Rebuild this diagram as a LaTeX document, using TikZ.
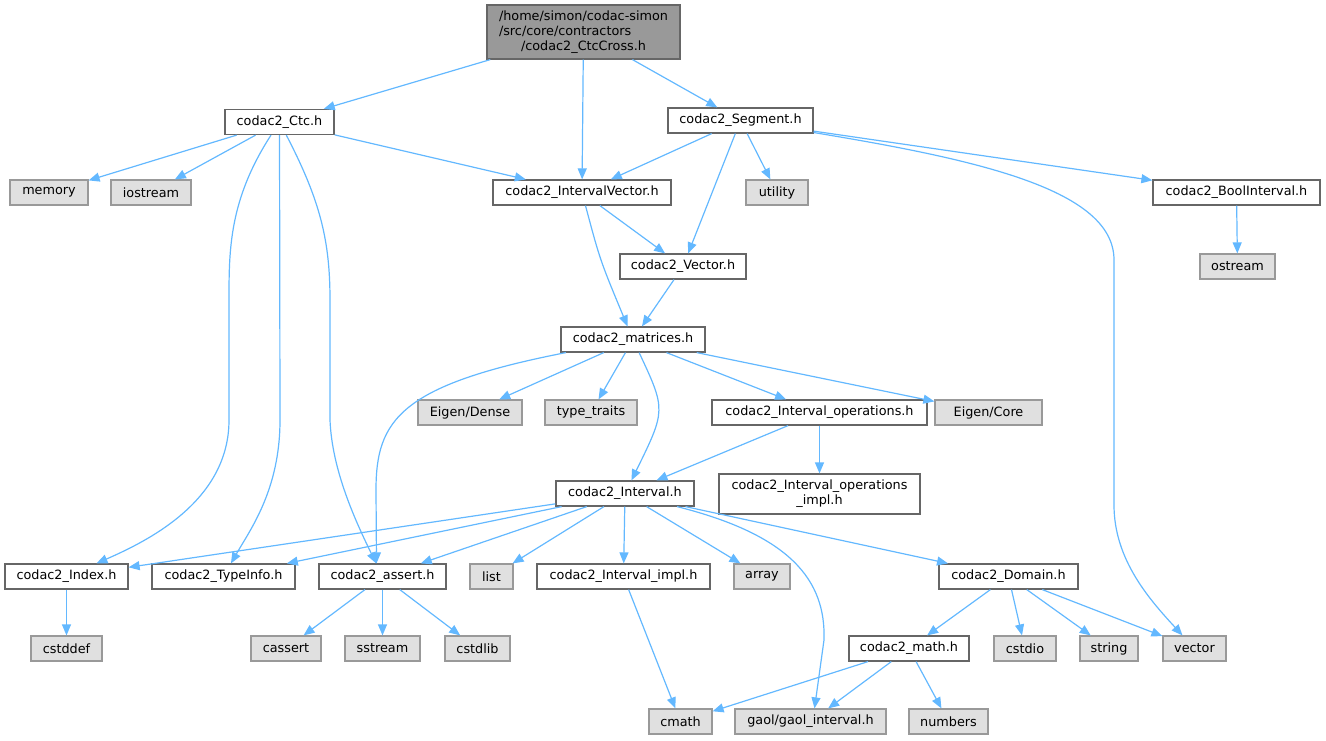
\documentclass[tikz,border=0pt]{standalone}
\usepackage{fontspec}
\setmainfont{DejaVu Sans}
\usetikzlibrary{arrows.meta}
\definecolor{edgeblue}{HTML}{63B8FF}
\definecolor{boxline}{HTML}{666666}
\definecolor{sysline}{HTML}{999999}
\definecolor{sysfill}{HTML}{E0E0E0}
\definecolor{rootfill}{HTML}{999999}
\tikzset{
  hfile/.style={draw=boxline, fill=white, line width=1.2pt, minimum height=25pt,
    inner xsep=2pt, inner ysep=0pt, font=\fontsize{12.8}{15}\selectfont},
  sysfile/.style={hfile, draw=sysline, fill=sysfill},
  rootfile/.style={hfile, fill=rootfill},
  dep/.style={draw=edgeblue, line width=1.2pt, -{Triangle[length=11pt,width=9pt]}}
}
\begin{document}
\begin{tikzpicture}[x=1pt,y=-1pt]
      \useasboundingbox (0,0) rectangle (1326,740);
      \draw
        (583.5,32) node[rootfile, minimum width=193pt, minimum height=54pt] (root)
          {\begin{tabular}{@{}l@{}}/home/simon/codac-simon\\/src/core/contractors\\\multicolumn{1}{@{}c@{}}{/codac2\_CtcCross.h}\end{tabular}}
        (279.5,122) node[hfile, minimum width=109pt] (ctc) {codac2\_Ctc.h}
        (740.5,120.5) node[hfile, minimum width=145pt] (segment) {codac2\_Segment.h}
        (49,192.5) node[sysfile, minimum width=78pt] (memory) {memory}
        (151,192.5) node[sysfile, minimum width=80pt] (iostream) {iostream}
        (582,192.5) node[hfile, minimum width=178pt] (ivec) {codac2\_IntervalVector.h}
        (777,192.5) node[sysfile, minimum width=62pt] (utility) {utility}
        (1236.5,192.5) node[hfile, minimum width=167pt] (boolint) {codac2\_BoolInterval.h}
        (683,266.5) node[hfile, minimum width=126pt] (vech) {codac2\_Vector.h}
        (1237.5,266.5) node[sysfile, minimum width=75pt] (ostream) {ostream}
        (633,339.5) node[hfile, minimum width=144pt] (matrices) {codac2\_matrices.h}
        (470,412.5) node[sysfile, minimum width=104pt] (edense) {Eigen/Dense}
        (591,412.5) node[sysfile, minimum width=92pt] (ttraits) {type\_traits}
        (819.5,412.5) node[hfile, minimum width=215pt] (iops) {codac2\_Interval\_operations.h}
        (988.5,412.5) node[sysfile, minimum width=107pt] (ecore) {Eigen/Core}
        (625,493.5) node[hfile, minimum width=138pt] (interval) {codac2\_Interval.h}
        (819.5,494) node[hfile, minimum width=201pt, minimum height=40pt, align=center] (iopsimpl)
          {codac2\_Interval\_operations\\\_impl.h}
        (66.5,576.5) node[hfile, minimum width=123pt] (index) {codac2\_Index.h}
        (223.5,576.5) node[hfile, minimum width=143pt] (typeinfo) {codac2\_TypeInfo.h}
        (382.5,576.5) node[hfile, minimum width=127pt] (assert) {codac2\_assert.h}
        (491.5,576.5) node[sysfile, minimum width=43pt] (list) {list}
        (623.5,576.5) node[hfile, minimum width=173pt] (iimpl) {codac2\_Interval\_impl.h}
        (762,576.5) node[sysfile, minimum width=56pt] (array) {array}
        (1008.5,576.5) node[hfile, minimum width=139pt] (domain) {codac2\_Domain.h}
        (66.5,648.5) node[sysfile, minimum width=71pt] (cstddef) {cstddef}
        (286,648.5) node[sysfile, minimum width=70pt] (cassert) {cassert}
        (382.5,648.5) node[sysfile, minimum width=75pt] (sstream) {sstream}
        (477.5,648.5) node[sysfile, minimum width=65pt] (cstdlib) {cstdlib}
        (909,648.5) node[hfile, minimum width=120pt] (math) {codac2\_math.h}
        (1025,648.5) node[sysfile, minimum width=62pt] (cstdio) {cstdio}
        (1109,648.5) node[sysfile, minimum width=58pt] (string) {string}
        (1194.5,648.5) node[sysfile, minimum width=63pt] (vector) {vector}
        (680.5,721.5) node[sysfile, minimum width=63pt] (cmath) {cmath}
        (810.5,721.5) node[sysfile, minimum width=151pt] (gaol) {gaol/gaol\_interval.h}
        (948.5,721.5) node[sysfile, minimum width=79pt] (numbers) {numbers};
      \begin{scope}[dep]
        \draw (root) to (ctc);
        \draw (root) to (ivec);
        \draw (root) to (segment);
        \draw (ctc) to (memory);
        \draw (ctc) to (iostream);
        \draw (ctc) to (ivec);
        \draw (ctc) .. controls (229,200) and (229,250) .. (229,300) -- (229,420)
          .. controls (229,500) and (150,540) .. (index);
        \draw (ctc) -- (280,420) .. controls (280,490) and (250,530) .. (typeinfo);
        \draw (ctc) .. controls (320,200) and (330,240) .. (330,300) -- (330,420)
          .. controls (332,470) and (355,520) .. (assert);
        \draw (segment) to (ivec);
        \draw (segment) to (vech);
        \draw (segment) to (utility);
        \draw (segment) to (boolint);
        \draw (segment) .. controls (980,160) and (1114,190) .. (1114,260) -- (1114,505)
          .. controls (1114,560) and (1150,600) .. (vector);
        \draw (boolint) to (ostream);
        \draw (ivec) to (vech);
        \draw (ivec) .. controls (600,260) .. (matrices);
        \draw (vech) to (matrices);
        \draw (matrices) to (edense);
        \draw (matrices) to (ttraits);
        \draw (matrices) to (iops);
        \draw (matrices) to (ecore);
        \draw (matrices) .. controls (666,410) .. (interval);
        \draw (matrices) .. controls (400,385) and (376,420) .. (376,490) -- ([xshift=-6pt]assert.north);
        \draw (iops) to (interval);
        \draw (iops) to (iopsimpl);
        \draw (interval) to (index);
        \draw (interval) to (typeinfo);
        \draw (interval) to (assert);
        \draw (interval) to (list);
        \draw (interval) to (iimpl);
        \draw (interval) to (array);
        \draw (interval) .. controls (790,535) and (826,580) .. (824,640) -- ([xshift=4pt]gaol.north);
        \draw (interval) to (domain);
        \draw (index) to (cstddef);
        \draw (assert) to (cassert);
        \draw (assert) to (sstream);
        \draw (assert) to (cstdlib);
        \draw (iimpl) to (cmath);
        \draw (domain) to (math);
        \draw (domain) to (cstdio);
        \draw (domain) to (string);
        \draw (domain) to (vector);
        \draw (math) to (cmath);
        \draw (math) to (gaol);
        \draw (math) to (numbers);
      \end{scope}
    \end{tikzpicture}
\end{document}
